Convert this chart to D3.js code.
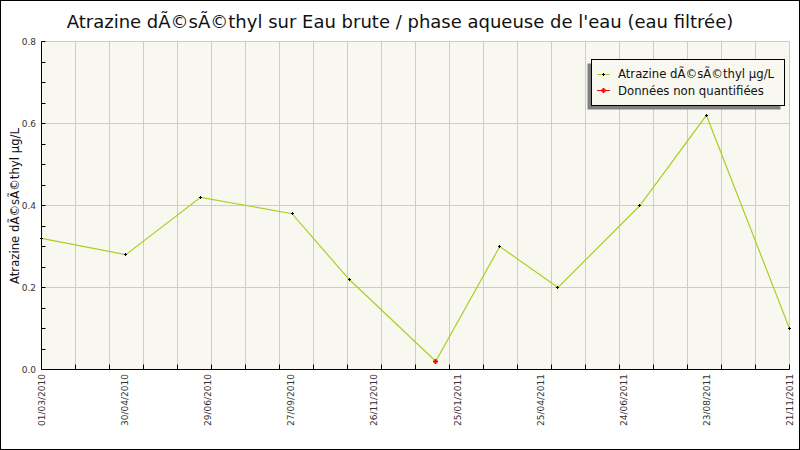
<!DOCTYPE html>
<html><head><meta charset="utf-8">
<script src="https://cdn.jsdelivr.net/npm/d3@7"></script>
<style>html,body{margin:0;padding:0;background:#fff;}svg{display:block;}</style>
</head><body>
<script>
// ---- data ----
const sampleDates = ["2010-03-01","2010-05-11","2010-07-13","2010-09-28","2010-11-15","2011-01-27","2011-03-22","2011-05-10","2011-07-18","2011-09-12","2011-11-21"];
const sampleValues = [0.32,0.28,0.42,0.38,0.22,0.02,0.30,0.20,0.40,0.62,0.10];
const quantified = [true,true,true,true,true,false,true,true,true,true,true];
const xTickLabels = ["01/03/2010","30/04/2010","29/06/2010","27/09/2010","26/11/2010","25/01/2011","25/04/2011","24/06/2011","23/08/2011","21/11/2011"];
const yTicks = [0.0,0.2,0.4,0.6,0.8];
const yMinorTicks = [0.05,0.1,0.15,0.25,0.3,0.35,0.45,0.5,0.55,0.65,0.7,0.75];
const titleText = "Atrazine dÃ©sÃ©thyl sur Eau brute / phase aqueuse de l'eau (eau filtrée)";
const yLabelText = "Atrazine dÃ©sÃ©thyl µg/L";
const legendLabels = ["Atrazine dÃ©sÃ©thyl µg/L","Données non quantifiées"];
const xStart = "2010-03-01", xEnd = "2011-11-21";
const nGrid = 22;

const W=800,H=450;
const parse = d3.timeParse("%Y-%m-%d");
const data = sampleDates.map((d,i)=>({date:parse(d), v:sampleValues[i], q:quantified[i]}));

const svg = d3.select("body").append("svg").attr("width",W).attr("height",H)
  .style("font-family","'DejaVu Sans', sans-serif");
svg.append("rect").attr("x",0.5).attr("y",0.5).attr("width",W-1).attr("height",H-1)
  .attr("fill","#fff").attr("stroke","#000");

const x = d3.scaleTime().domain([parse(xStart),parse(xEnd)]).range([41.5,789.5]);
const y = d3.scaleLinear().domain([0,0.8]).range([369.5,41.5]);
const interpRaw = d3.interpolateDate(parse(xStart),parse(xEnd));
const interp = t => new Date(+interpRaw(t));

// plot background
svg.append("rect").attr("x",41.5).attr("y",41.5).attr("width",748).attr("height",328)
  .attr("fill","#f8f8f0");

// vertical grid
const gridDates = d3.range(1,nGrid+1).map(i=>interp(i/nGrid));
svg.append("g").selectAll("line").data(gridDates).join("line")
  .attr("x1",d=>Math.round(x(d)-0.5)+0.5).attr("x2",d=>Math.round(x(d)-0.5)+0.5)
  .attr("y1",y(0.8)).attr("y2",y(0)).attr("stroke","#cccccc");
// horizontal grid
svg.append("g").selectAll("line").data(yTicks.slice(1)).join("line")
  .attr("x1",x.range()[0]).attr("x2",x.range()[1])
  .attr("y1",d=>Math.round(y(d)-0.5)+0.5).attr("y2",d=>Math.round(y(d)-0.5)+0.5).attr("stroke","#cccccc");

// axes lines
svg.append("line").attr("x1",41.5).attr("x2",41.5).attr("y1",y(0.8)).attr("y2",y(0)).attr("stroke","#000");
svg.append("line").attr("x1",41.5).attr("x2",789.5).attr("y1",y(0)).attr("y2",y(0)).attr("stroke","#000");

// y ticks (inward)
svg.append("g").selectAll("line").data(yTicks.concat(yMinorTicks)).join("line")
  .attr("x1",41.5).attr("x2",45.5)
  .attr("y1",d=>Math.round(y(d)-0.5)+0.5).attr("y2",d=>Math.round(y(d)-0.5)+0.5).attr("stroke","#000");
svg.append("g").selectAll("text").data(yTicks).join("text")
  .attr("x",36).attr("y",d=>y(d)+3).attr("text-anchor","end")
  .attr("font-size",9).attr("fill","#333").text(d=>d.toFixed(1));

// x ticks (inward)
const tickDates = d3.range(0,nGrid+1).map(i=>interp(i/nGrid));
svg.append("g").selectAll("line").data(tickDates).join("line")
  .attr("x1",d=>Math.round(x(d)-0.5)+0.5).attr("x2",d=>Math.round(x(d)-0.5)+0.5)
  .attr("y1",y(0)).attr("y2",y(0)-5).attr("stroke","#000");
// x labels at equal fractions of the time domain
const nL = xTickLabels.length-1;
svg.append("g").selectAll("text").data(xTickLabels).join("text")
  .attr("transform",(d,i)=>`translate(${x(interp(i/nL))+3.5},374) rotate(-90)`)
  .attr("text-anchor","end").attr("font-size",9).attr("fill","#333").text(d=>d);

// line
const line = d3.line().x(d=>x(d.date)).y(d=>y(d.v));
svg.append("path").datum(data).attr("d",line).attr("fill","none")
  .attr("stroke","#a8d020").attr("stroke-width",1.2);

// markers
function plus(g,cx,cy,r,color,w){
  g.append("line").attr("x1",cx-r).attr("x2",cx+r).attr("y1",cy).attr("y2",cy).attr("stroke",color).attr("stroke-width",w);
  g.append("line").attr("x1",cx).attr("x2",cx).attr("y1",cy-r).attr("y2",cy+r).attr("stroke",color).attr("stroke-width",w);
}
const mg = svg.append("g");
data.forEach(d=>{
  const cx=Math.round(x(d.date)-0.5)+0.5, cy=Math.round(y(d.v)-0.5)+0.5;
  if(d.q) plus(mg,cx,cy,1.5,"#000",1);
  else plus(mg,cx,cy,2.5,"#ff0000",2);
});

// title
svg.append("text").attr("x",400).attr("y",28).attr("text-anchor","middle")
  .attr("font-size",18).attr("fill","#111").text(titleText);
// y label
svg.append("text").attr("transform","translate(19,206) rotate(-90)").attr("text-anchor","middle")
  .attr("font-size",11.7).attr("fill","#111").text(yLabelText);

// legend
const lg = svg.append("g");
lg.append("rect").attr("x",587.5).attr("y",63.5).attr("width",193).attr("height",46).attr("fill","#808080");
lg.append("rect").attr("x",591.5).attr("y",59.5).attr("width",193).attr("height",46).attr("fill","#f8f8f0").attr("stroke","#000");
const legColors = [["#a8d020","#000",1.5,1],["#ff0000","#ff0000",2.5,2]];
legendLabels.forEach((t,i)=>{
  const cy = 73.5 + i*16.5;
  lg.append("line").attr("x1",597).attr("x2",610).attr("y1",Math.round(cy)+0.5).attr("y2",Math.round(cy)+0.5).attr("stroke",legColors[i][0]);
  plus(lg,603.5,Math.round(cy)+0.5,legColors[i][2],legColors[i][1],legColors[i][3]);
  lg.append("text").attr("x",618).attr("y",cy+4.5).attr("font-size",11.7).attr("fill","#111").text(t);
});
</script>
</body></html>
